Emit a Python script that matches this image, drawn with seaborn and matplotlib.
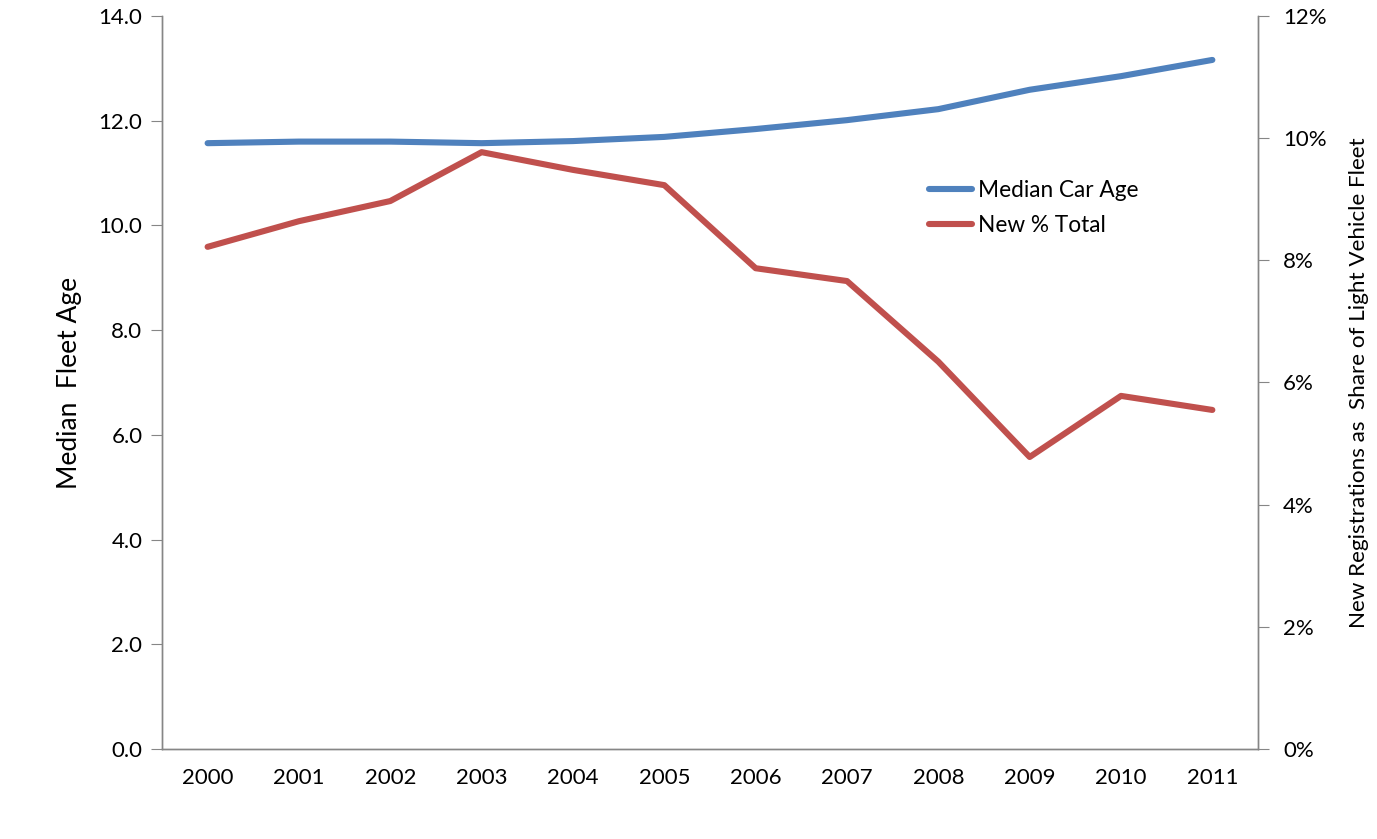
import numpy as np
import pandas as pd
import matplotlib
matplotlib.use("Agg")
import matplotlib.pyplot as plt
import seaborn as sns

# ------------------------------------------------------
# Data
# ------------------------------------------------------
years = ["2000", "2001", "2002", "2003", "2004", "2005",
         "2006", "2007", "2008", "2009", "2010", "2011"]
median_car_age = [11.57, 11.60, 11.60, 11.57, 11.61, 11.69,
                  11.84, 12.01, 12.22, 12.59, 12.85, 13.16]
new_pct_total = [8.22, 8.64, 8.97, 9.77, 9.48, 9.23,
                 7.87, 7.66, 6.34, 4.78, 5.78, 5.55]

df = pd.DataFrame({
    "idx": np.arange(len(years)),
    "year": years,
    "age": median_car_age,
    "pct": new_pct_total,
})

sns.set_style("white")
plt.rcParams["font.family"] = ["Lato", "DejaVu Sans"]
plt.rcParams["text.color"] = "black"
plt.rcParams["axes.labelcolor"] = "black"
plt.rcParams["xtick.labelcolor"] = "black"
plt.rcParams["ytick.labelcolor"] = "black"

blue = "#4F81BD"
red = "#C0504D"
grey = "#868686"

fig = plt.figure(figsize=(13.77, 8.39), dpi=100)
ax = fig.add_axes([0.1176, 0.1073, 0.7960, 0.8737])
ax2 = ax.twinx()

sns.lineplot(data=df, x="idx", y="age", ax=ax, color=blue, linewidth=4.4,
             label="Median Car Age", legend=False, solid_capstyle="round")
sns.lineplot(data=df, x="idx", y="pct", ax=ax2, color=red, linewidth=4.4,
             label="New % Total", legend=False, solid_capstyle="round")

# Left axis
ax.set_xlim(-0.5, len(years) - 0.5)
ax.set_ylim(0, 14)
ax.set_yticks(np.arange(0, 14.1, 2))
ax.set_yticklabels([f"{v:.1f}" for v in np.arange(0, 14.1, 2)])
ax.set_xticks(df["idx"])
ax.set_xticklabels(years)
ax.set_xticks(np.arange(-0.5, len(years), 1), minor=True)
ax.tick_params(axis="x", which="major", length=0, pad=14, labelsize=16)
ax.tick_params(axis="x", which="minor", length=8, color=grey, direction="out")
ax.tick_params(axis="y", length=8, color=grey, direction="out", pad=6, labelsize=16)
ax.set_xlabel("")
ax.set_ylabel("Median  Fleet Age", fontsize=19, labelpad=12)

# Right axis
ax2.set_ylim(0, 12)
ax2.set_yticks(np.arange(0, 12.1, 2))
ax2.set_yticklabels([f"{int(v)}%" for v in np.arange(0, 12.1, 2)])
ax2.tick_params(axis="y", length=8, color=grey, direction="out", pad=10, labelsize=16)
ax2.set_ylabel("New Registrations as  Share of Light Vehicle Fleet",
               fontsize=16.2, labelpad=16)
ax2.set_xlabel("")

for a in (ax, ax2):
    a.spines["top"].set_visible(False)
    for s in ("left", "right", "bottom"):
        a.spines[s].set_color(grey)
        a.spines[s].set_linewidth(1.0)

# Legend
handles = ax.get_lines()[:1] + ax2.get_lines()[:1]
ax2.legend(handles, ["Median Car Age", "New % Total"],
           loc="center left", bbox_to_anchor=(0.70, 0.738),
           borderaxespad=0, borderpad=0,
           frameon=False, fontsize=16.3, handlelength=1.9,
           handletextpad=0.25, labelspacing=0.6)

fig.savefig("out.png", dpi=100)
